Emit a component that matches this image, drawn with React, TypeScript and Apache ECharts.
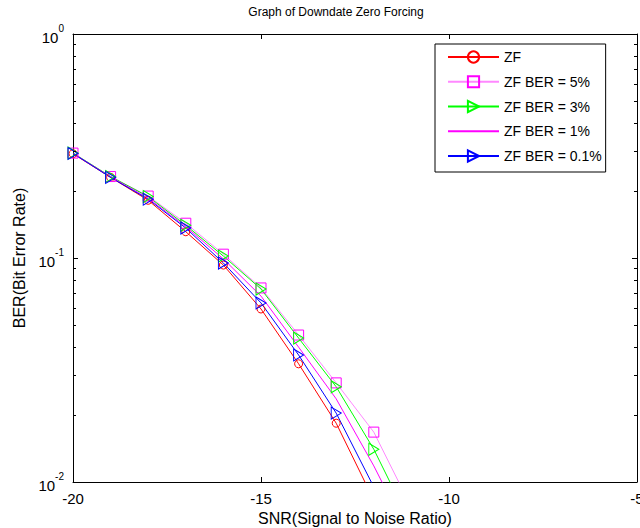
import React, { useEffect, useRef } from "react";
import * as echarts from "echarts";

const snr = [-20, -19, -18, -17, -16, -15, -14, -13, -12, -11];
const berZF = [0.292, 0.229, 0.181, 0.131, 0.093, 0.0592, 0.0337, 0.0183, 0.0083, 0.0035];
const ber5 = [0.294, 0.231, 0.189, 0.143, 0.104, 0.0735, 0.0453, 0.0277, 0.0167, 0.0077];
const ber3 = [0.294, 0.231, 0.188, 0.140, 0.102, 0.0727, 0.0439, 0.0266, 0.0140, 0.0064];
const ber1 = [0.293, 0.230, 0.185, 0.138, 0.099, 0.0676, 0.0400, 0.0235, 0.0118, 0.0055];
const ber01 = [0.293, 0.229, 0.183, 0.136, 0.095, 0.0630, 0.0369, 0.0203, 0.0095, 0.0042];
const seriesNames = ["ZF", "ZF BER = 5%", "ZF BER = 3%", "ZF BER = 1%", "ZF BER = 0.1%"];
const xTicks = [-20, -15, -10, -5];
const minorTickValues = [0.02, 0.03, 0.04, 0.05, 0.06, 0.07, 0.08, 0.09, 0.2, 0.3, 0.4, 0.5, 0.6, 0.7, 0.8, 0.9];

const FONT = "Liberation Sans, Arial, sans-serif";
const TRI = "path://M0,0L10,6L0,12Z";

function pairs(ys: number[]) {
  return snr.map((x, i) => [x, ys[i]]);
}

export default function App() {
  const ref = useRef<HTMLDivElement>(null);
  useEffect(() => {
    if (!ref.current) return;
    const chart = echarts.init(ref.current, null, { renderer: "svg" });
    const mk = (name: string, data: number[], color: string, markerColor: string, symbol: string, size: any, show = true) => ({
      name,
      type: "line",
      data: pairs(data),
      symbol,
      symbolSize: size,
      showSymbol: show,
      clip: true,
      lineStyle: { color, width: 1 },
      itemStyle: { color: "transparent", borderColor: markerColor, borderWidth: 1 },
      emphasis: { disabled: true },
      z: 3,
    });
    const axisLine = { show: true, lineStyle: { color: "#000", width: 1 } };
    const titleGraphic = {
      type: "text",
      x: 336,
      y: 12,
      style: {
        text: "Graph of Downdate Zero Forcing",
        fontSize: 12,
        fontFamily: FONT,
        fill: "#000",
        textAlign: "center",
        textVerticalAlign: "middle",
        align: "center",
        verticalAlign: "middle",
      },
    };
    const option: any = {
      animation: false,
      backgroundColor: "#fff",
      textStyle: { fontFamily: FONT },
      graphic: [titleGraphic],
      grid: { left: 73, top: 34, right: 3, bottom: 46, containLabel: false, outerBoundsMode: "none" },
      legend: {
        data: seriesNames,
        orient: "vertical",
        left: 435,
        top: 44,
        itemWidth: 51,
        itemHeight: 14,
        itemGap: 10.75,
        padding: [6, 4, 9, 12],
        backgroundColor: "#fff",
        borderColor: "#000",
        borderWidth: 1,
        borderRadius: 0,
        textStyle: { fontSize: 14, fontFamily: FONT, color: "#000" },
        selectedMode: false,
      },
      xAxis: [
        {
          type: "value",
          min: -20,
          max: -5,
          interval: 5,
          name: "SNR(Signal to Noise Ratio)",
          nameLocation: "middle",
          nameGap: 26,
          nameTextStyle: { fontSize: 16, fontFamily: FONT, color: "#000" },
          axisLine,
          axisTick: { show: true, inside: true, length: 5, lineStyle: { color: "#000" } },
          axisLabel: { fontSize: 15, fontFamily: FONT, color: "#000", margin: 9, formatter: (v: number) => (xTicks.includes(v) ? String(v) : "") },
          splitLine: { show: false },
        },
        {
          type: "value",
          position: "top",
          min: -20,
          max: -5,
          interval: 5,
          axisLine,
          axisTick: { show: true, inside: true, length: 5, lineStyle: { color: "#000" } },
          axisLabel: { show: false },
          splitLine: { show: false },
        },
      ],
      yAxis: [
        {
          type: "log",
          logBase: 10,
          min: 0.01,
          max: 1,
          name: "BER(Bit Error Rate)",
          nameLocation: "middle",
          nameGap: 42,
          nameTextStyle: { fontSize: 16, fontFamily: FONT, color: "#000" },
          axisLine,
          axisTick: { show: true, inside: true, length: 5, lineStyle: { color: "#000" } },
          axisLabel: {
            margin: 9,
            color: "#000",
            formatter: (v: number) => `{b|10}{s|${Math.round(Math.log10(v))}}`,
            rich: {
              b: { fontSize: 15, fontFamily: FONT, color: "#000", lineHeight: 22, verticalAlign: "bottom" },
              s: { fontSize: 10, fontFamily: FONT, color: "#000", lineHeight: 22, verticalAlign: "top" },
            },
          },
          splitLine: { show: false },
        },
        {
          type: "log",
          logBase: 10,
          position: "right",
          min: 0.01,
          max: 1,
          axisLine,
          axisTick: { show: true, inside: true, length: 5, lineStyle: { color: "#000" } },
          axisLabel: { show: false },
          splitLine: { show: false },
        },
      ],
      series: [
        mk(seriesNames[0], berZF, "#ff0000", "#ff0000", "circle", 8),
        mk(seriesNames[1], ber5, "#ff88ff", "#ff00ff", "rect", 10),
        mk(seriesNames[2], ber3, "#00ff00", "#00ff00", TRI, [10, 12]),
        {
          ...mk(seriesNames[3], ber1, "#ff00ff", "transparent", "circle", 1, false),
          itemStyle: { color: "transparent", borderColor: "transparent", borderWidth: 0 },
        },
        mk(seriesNames[4], ber01, "#0000ff", "#0000ff", TRI, [10, 12]),
      ],
    };
    chart.setOption(option);
    const ticks: any[] = [];
    minorTickValues.forEach((v) => {
      const l = chart.convertToPixel({ xAxisIndex: 0, yAxisIndex: 0 }, [-20, v]) as number[];
      const r = chart.convertToPixel({ xAxisIndex: 0, yAxisIndex: 0 }, [-5, v]) as number[];
      const y = Math.round(l[1]) + 0.5;
      ticks.push({ type: "line", silent: true, z: 10, shape: { x1: l[0], y1: y, x2: l[0] + 3, y2: y }, style: { stroke: "#000", lineWidth: 1 } });
      ticks.push({ type: "line", silent: true, z: 10, shape: { x1: r[0] - 3, y1: y, x2: r[0], y2: y }, style: { stroke: "#000", lineWidth: 1 } });
    });
    chart.setOption({ graphic: [titleGraphic, ...ticks] });
    return () => chart.dispose();
  }, []);
  return <div ref={ref} style={{ width: 640, height: 528, position: "absolute", left: 0, top: 0 }} />;
}
